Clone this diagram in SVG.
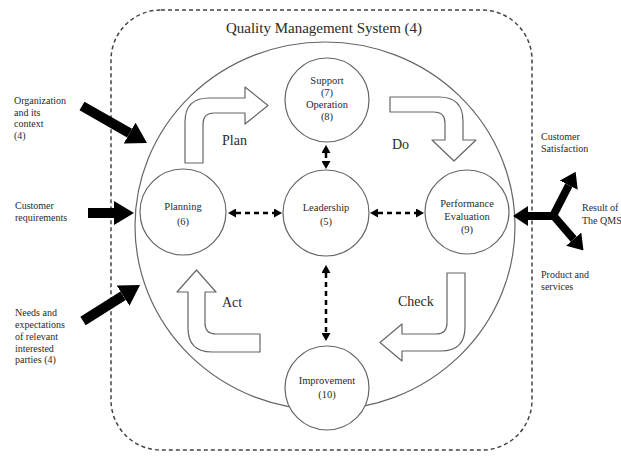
<svg xmlns="http://www.w3.org/2000/svg" width="621" height="456" viewBox="0 0 621 456">
<style>
text{font-family:"Liberation Serif","Times New Roman",serif;fill:#2a2a2a}
.node{fill:#fff;stroke:#666;stroke-width:1.2}
.lbl{font-size:10.5px;text-anchor:middle}
.side{font-size:10px}
.pdca{font-size:14px}
.block{fill:#fff;stroke:#666;stroke-width:1.2;stroke-linejoin:round}
.thick{stroke:#000;stroke-width:10;fill:none}
.thin{stroke:#000;stroke-width:8;fill:none}
.dash{stroke:#000;stroke-width:2.5;stroke-dasharray:5 4;fill:none}
</style>
<defs>
<marker id="big" markerUnits="userSpaceOnUse" markerWidth="20" markerHeight="24" viewBox="0 0 20 24" refX="0" refY="12" orient="auto"><path d="M0,0 L20,12 L0,24 Z" fill="#000"/></marker>
<marker id="mid" markerUnits="userSpaceOnUse" markerWidth="15" markerHeight="20" viewBox="0 0 15 20" refX="0" refY="10" orient="auto"><path d="M0,0 L15,10 L0,20 Z" fill="#000"/></marker>
<marker id="sm" markerUnits="userSpaceOnUse" markerWidth="8" markerHeight="9" viewBox="0 0 8 9" refX="0" refY="4.5" orient="auto-start-reverse"><path d="M0,0 L8,4.5 L0,9 Z" fill="#000"/></marker>
</defs>
<rect width="621" height="456" fill="#fff"/>
<rect id="qms" x="111" y="10" width="421" height="440" rx="50" fill="none" stroke="#444" stroke-width="1.5" stroke-dasharray="4 3"/>
<text x="324" y="33" font-size="15" text-anchor="middle">Quality Management System (4)</text>
<ellipse id="cycle" cx="325" cy="226" rx="190" ry="184" fill="none" stroke="#666" stroke-width="1.2"/>

<g id="pdca-arrows">
<path class="block" d="M185,163 L185,122 Q185,98 209,98 L245,98 L245,87 L268,105.5 L245,124 L245,113 L214,113 Q203,113 203,124 L203,163 Z"/>
<path class="block" d="M390,97 L439,97 Q463,97 463,121 L463,140 L476,140 L454,161 L432,140 L445,140 L445,123 Q445,112 434,112 L390,112 Z"/>
<path class="block" d="M447,273 L465,273 L465,327 Q465,351 441,351 L402,351 L402,361 L380,342.5 L402,324 L402,334 L436,334 Q447,334 447,323 Z"/>
<path class="block" d="M260,352 L212,352 Q188,352 188,328 L188,292 L177,292 L196.5,270 L216,292 L205,292 L205,323 Q205,334 216,334 L260,334 Z"/>
<text class="pdca" x="222" y="145">Plan</text>
<text class="pdca" x="392" y="149">Do</text>
<text class="pdca" x="222" y="307">Act</text>
<text class="pdca" x="398" y="306">Check</text>
</g>

<g id="connectors">
<line class="thick" x1="82" y1="106" x2="129.6" y2="133.1" marker-end="url(#big)"/>
<line class="thick" x1="88" y1="213" x2="114" y2="213" marker-end="url(#big)"/>
<line class="thick" x1="83" y1="321" x2="123.1" y2="295.7" marker-end="url(#big)"/>
<line class="thin" x1="558" y1="216" x2="528" y2="216" marker-end="url(#mid)"/>
<line class="thin" x1="552" y1="218" x2="568.8" y2="185.2" marker-end="url(#mid)"/>
<line class="thin" x1="552" y1="214" x2="573.7" y2="239.1" marker-end="url(#mid)"/>
<line class="dash" x1="326" y1="153" x2="326" y2="161" marker-start="url(#sm)" marker-end="url(#sm)"/>
<line class="dash" x1="236" y1="213" x2="274" y2="213" marker-start="url(#sm)" marker-end="url(#sm)"/>
<line class="dash" x1="378" y1="213" x2="416" y2="213" marker-start="url(#sm)" marker-end="url(#sm)"/>
<line class="dash" x1="326" y1="273" x2="326" y2="333" marker-start="url(#sm)" marker-end="url(#sm)"/>
</g>

<g id="support">
<circle class="node" cx="327" cy="100" r="42"/>
<text class="lbl" x="327" y="84">Support</text>
<text class="lbl" x="327" y="96">(7)</text>
<text class="lbl" x="327" y="108">Operation</text>
<text class="lbl" x="327" y="120">(8)</text>
</g>
<g id="planning">
<circle class="node" cx="183" cy="212" r="43"/>
<text class="lbl" x="183" y="210">Planning</text>
<text class="lbl" x="183" y="225">(6)</text>
</g>
<g id="leadership">
<circle class="node" cx="326" cy="213" r="43"/>
<text class="lbl" x="326" y="211">Leadership</text>
<text class="lbl" x="326" y="225">(5)</text>
</g>
<g id="performance">
<circle class="node" cx="467" cy="212" r="42"/>
<text class="lbl" x="467" y="207">Performance</text>
<text class="lbl" x="467" y="220">Evaluation</text>
<text class="lbl" x="467" y="233">(9)</text>
</g>
<g id="improvement">
<circle class="node" cx="327" cy="388" r="42"/>
<text class="lbl" x="327" y="384">Improvement</text>
<text class="lbl" x="327" y="398">(10)</text>
</g>

<g id="inputs">
<text class="side" x="14" y="104">Organization</text>
<text class="side" x="14" y="115.5">and its</text>
<text class="side" x="14" y="127">context</text>
<text class="side" x="14" y="138.5">(4)</text>
<text class="side" x="15" y="209">Customer</text>
<text class="side" x="15" y="221">requirements</text>
<text class="side" x="15" y="316">Needs and</text>
<text class="side" x="15" y="328">expectations</text>
<text class="side" x="15" y="340">of relevant</text>
<text class="side" x="15" y="351.5">interested</text>
<text class="side" x="15" y="363">parties (4)</text>
</g>
<g id="outputs">
<text class="side" x="541" y="140">Customer</text>
<text class="side" x="541" y="152">Satisfaction</text>
<text class="side" x="582" y="211">Result of</text>
<text class="side" x="582" y="224">The QMS</text>
<text class="side" x="541" y="278">Product and</text>
<text class="side" x="541" y="290">services</text>
</g>
</svg>
